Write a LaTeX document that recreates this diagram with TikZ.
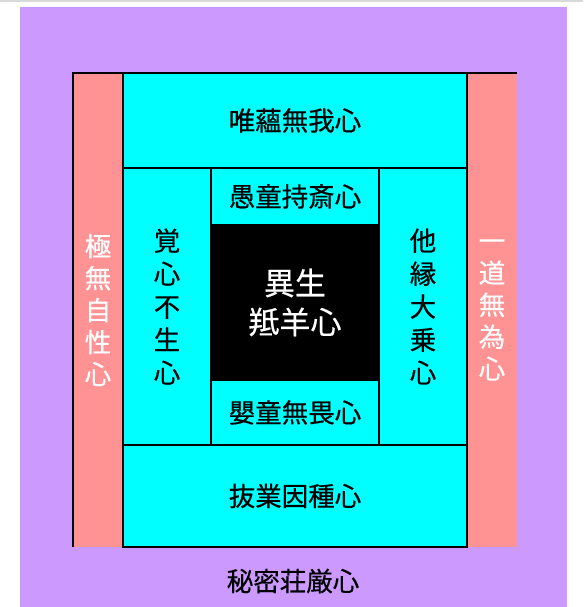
\documentclass[tikz,border=0pt]{standalone}
\usepackage{fontspec}
\newfontfamily\jpfont[FakeBold=0.4]{Noto Sans CJK JP}
\definecolor{mitsubg}{HTML}{CC99FF}
\definecolor{pinkbox}{HTML}{FF9393}
\definecolor{cyanbox}{HTML}{00FFFF}

\tikzset{
  cell/.style={draw=black, line width=1.1pt, fill=cyanbox, inner sep=0pt, outer sep=0pt,
    anchor=north west, align=center, font=\jpfont\fontsize{26.5}{33}\selectfont},
  side/.style={fill=pinkbox, inner sep=0pt, outer sep=0pt, anchor=north west,
    align=center, text=white, font=\jpfont\fontsize{26.5}{32}\selectfont},
  core/.style={cell, fill=black, text=white, font=\jpfont\fontsize{31}{39}\selectfont}
}

\begin{document}
\begin{tikzpicture}[x=1pt, y=-1pt]
    \useasboundingbox (0,0) rectangle (583,607);
    \draw[gray!30, line width=2pt] (0,1) -- (583,1);

    % outer frame
    \node[fill=mitsubg, inner sep=0pt, anchor=north west, minimum width=547pt, minimum height=600pt] (mitsu) at (20,7) {};
    \node[font=\jpfont\fontsize{26.5}{30}\selectfont] (mitsutext) at (293,581) {秘密荘厳心};

    % side columns
    \node[side, minimum width=50pt, minimum height=474pt] (kyoku) at (73,73) {極\\無\\自\\性\\心};
    \node[side, minimum width=50pt, minimum height=474pt] (ichido) at (467,73) {一\\道\\無\\為\\心};
    \draw[black, line width=1.1pt] (kyoku.south west) -- (kyoku.north west) -- (ichido.north east);

    % inner cells
    \node[cell, minimum width=344pt, minimum height=95pt] (yuiun) at (123,73) {唯蘊無我心};
    \node[cell, minimum width=88pt, minimum height=277pt] (kaku) at (123,168) {覚\\心\\不\\生\\心};
    \node[cell, minimum width=88pt, minimum height=277pt] (taen) at (379,168) {他\\縁\\大\\乗\\心};
    \node[cell, minimum width=168pt, minimum height=57pt] (gudo) at (211,168) {愚童持斎心};
    \node[core, minimum width=168pt, minimum height=155pt] (isho) at (211,225) {異生\\羝羊心};
    \node[cell, minimum width=168pt, minimum height=65pt] (yodo) at (211,380) {嬰童無畏心};
    \node[cell, minimum width=344pt, minimum height=102pt] (batsugo) at (123,445) {抜業因種心};
\end{tikzpicture}
\end{document}
